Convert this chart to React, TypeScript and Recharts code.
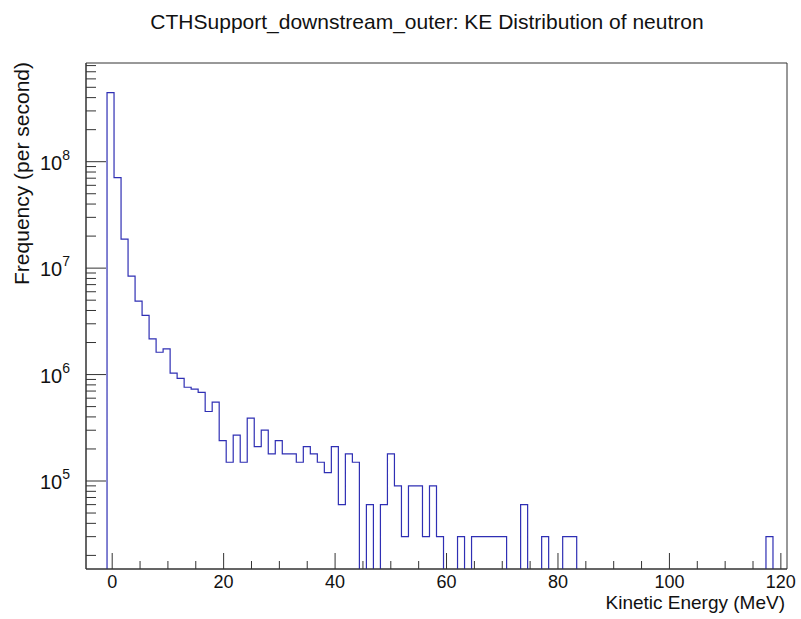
import { LineChart, Line, XAxis, YAxis, ReferenceArea } from "recharts";

// histogram binning (100 bins)
const binLow = -4.7;
const binWidth = 1.258;

// rate per bin (per second), 0 = empty bin
const rates = [
  0, 0, 0, 4.45e8, 7.1e7, 1.87e7, 8.4e6, 4.9e6, 3.6e6, 2.16e6,
  1.62e6, 1.74e6, 1.03e6, 9.2e5, 7.6e5, 7.3e5, 6.8e5, 4.5e5, 5.5e5, 2.4e5,
  1.5e5, 2.7e5, 1.5e5, 3.9e5, 2.1e5, 3.0e5, 1.8e5, 2.4e5, 1.8e5, 1.8e5,
  1.5e5, 2.1e5, 1.8e5, 1.5e5, 1.2e5, 2.1e5, 6e4, 1.8e5, 1.5e5, 0,
  6e4, 0, 6e4, 1.8e5, 9e4, 3e4, 9e4, 9e4, 3e4, 9e4,
  3e4, 0, 0, 3e4, 0, 3e4, 3e4, 3e4, 3e4, 3e4,
  0, 0, 6e4, 0, 0, 3e4, 0, 0, 3e4, 3e4,
  0, 0, 0, 0, 0, 0, 0, 0, 0, 0,
  0, 0, 0, 0, 0, 0, 0, 0, 0, 0,
  0, 0, 0, 0, 0, 0, 0, 3e4, 0, 0,
];

const xTicks = [0, 5, 10, 15, 20, 25, 30, 35, 40, 45, 50, 55, 60, 65, 70, 75, 80, 85, 90, 95, 100, 105, 110, 115, 120];
const xMajor = [0, 20, 40, 60, 80, 100, 120];
const yDecades = [1e4, 1e5, 1e6, 1e7, 1e8];
const yMin = 1.49e4;
const yMax = 8.46e8;

const xMax = binLow + rates.length * binWidth;
const empty = 1; // below the axis, gets clipped

const histData = rates.map((r, i) => ({ e: binLow + i * binWidth, rate: r > 0 ? r : empty }));
histData.push({ e: xMax, rate: rates[rates.length - 1] > 0 ? rates[rates.length - 1] : empty });

const yTicks: number[] = [];
yDecades.forEach((d) => {
  for (let m = 1; m <= 9; m++) {
    const v = d * m;
    if (v >= yMin && v <= yMax) yTicks.push(v);
  }
});

const FONT = "'Liberation Sans', Arial, Helvetica, sans-serif";
const AXIS = "#333";

function YTick(props: any) {
  const { x, y, payload } = props;
  const lg = Math.log10(payload.value);
  const exp = Math.round(lg);
  const major = Math.abs(lg - exp) < 1e-6;
  return (
    <g>
      <line x1={x} x2={x + (major ? 20 : 10)} y1={y} y2={y} stroke={AXIS} />
      {major && (
        <text x={x - 16} y={y + 8} textAnchor="end" fontSize={20} fill="#111">
          10
          <tspan dy={-10} fontSize={14}>
            {exp}
          </tspan>
        </text>
      )}
    </g>
  );
}

function XTick(props: any) {
  const { x, y, payload } = props;
  const major = xMajor.includes(payload.value);
  return (
    <g>
      <line x1={x} x2={x} y1={y} y2={y - (major ? 16 : 8)} stroke={AXIS} />
      {major && (
        <text x={x} y={y + 19} textAnchor="middle" fontSize={18} fill="#111">
          {payload.value}
        </text>
      )}
    </g>
  );
}

export default function App() {
  return (
    <div style={{ position: "absolute", left: 0, top: 0, width: 801, height: 619, background: "#fff", fontFamily: FONT }}>
      <div
        style={{
          position: "absolute",
          left: 427,
          top: 10,
          transform: "translateX(-50%)",
          whiteSpace: "nowrap",
          fontSize: 21,
          color: "#111",
        }}
      >
        CTHSupport_downstream_outer: KE Distribution of neutron
      </div>
      <LineChart
        width={801}
        height={619}
        data={histData}
        margin={{ top: 63, right: 14, bottom: 10, left: 26 }}
        style={{ fontFamily: FONT }}
      >
        <XAxis
          dataKey="e"
          type="number"
          domain={[binLow, xMax]}
          allowDataOverflow
          ticks={xTicks}
          interval={0}
          tick={<XTick />}
          tickLine={false}
          tickSize={0}
          tickMargin={0}
          axisLine={{ stroke: AXIS }}
          height={40}
          label={(p: any) => {
            const vb = p.viewBox;
            return (
              <text x={vb.x + vb.width - 2} y={vb.y + 40} textAnchor="end" fontSize={19} fill="#111">
                Kinetic Energy (MeV)
              </text>
            );
          }}
        />
        <YAxis
          dataKey="rate"
          type="number"
          scale="log"
          domain={[yMin, yMax]}
          allowDataOverflow
          ticks={yTicks}
          interval={0}
          tick={<YTick />}
          tickLine={false}
          tickSize={0}
          tickMargin={0}
          axisLine={{ stroke: AXIS }}
          width={60}
          label={(p: any) => {
            const vb = p.viewBox;
            const tx = 29;
            const ty = vb.y - 1;
            return (
              <text x={tx} y={ty} transform={`rotate(-90, ${tx}, ${ty})`} textAnchor="end" fontSize={21} fill="#111">
                Frequency (per second)
              </text>
            );
          }}
        />
        <ReferenceArea
          x1={binLow}
          x2={xMax}
          y1={yMin}
          y2={yMax}
          ifOverflow="visible"
          fill="none"
          stroke={AXIS}
          strokeWidth={1}
        />
        <Line
          type="stepAfter"
          dataKey="rate"
          stroke="#2f2fb4"
          strokeWidth={1.2}
          dot={false}
          activeDot={false}
          isAnimationActive={false}
        />
      </LineChart>
    </div>
  );
}
